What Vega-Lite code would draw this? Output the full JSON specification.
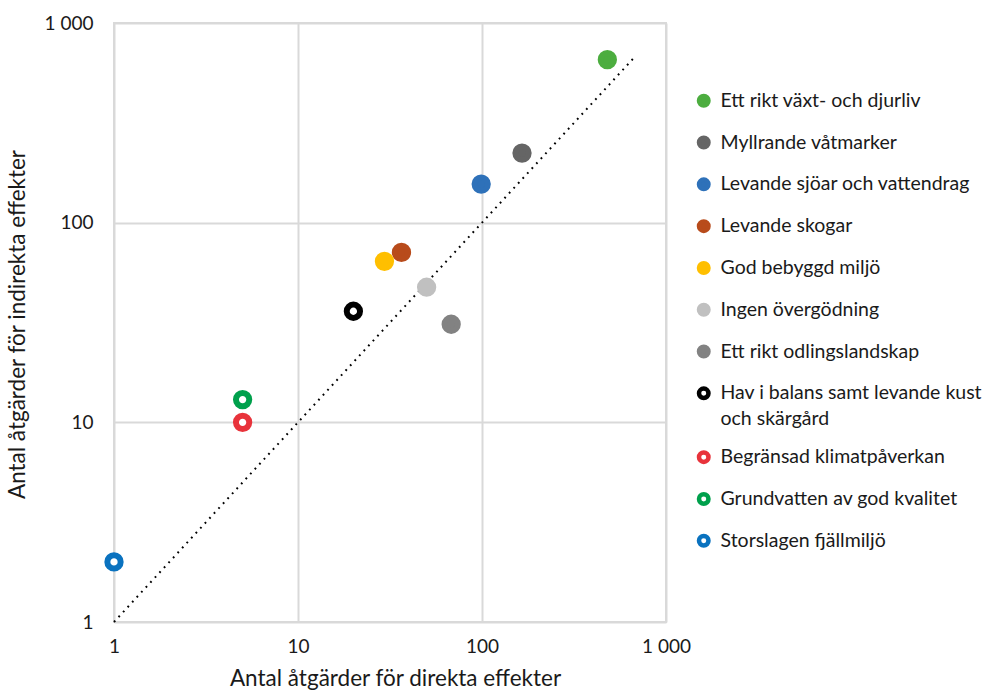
{
  "$schema": "https://vega.github.io/schema/vega-lite/v6.json",
  "width": 552,
  "height": 599,
  "autosize": {"type": "none"},
  "padding": {"left": 114, "top": 23, "right": 321, "bottom": 71},
  "background": "white",
  "config": {
    "font": "Lato",
    "view": {"stroke": "#d9d9d9", "strokeWidth": 2},
    "style": {"guide-label": {"lineHeight": 26}},
    "axis": {
      "labelFont": "Lato", "labelFontSize": 19, "labelColor": "#1a1a1a",
      "titleFont": "Lato", "titleFontSize": 22.5, "titleFontWeight": "normal", "titleColor": "#1a1a1a",
      "gridColor": "#d9d9d9", "gridWidth": 2, "domain": false, "ticks": false, "labelFlush": false
    }
  },
  "datasets": {
    "points": [
      {"mal": "Ett rikt växt- och djurliv", "direkt": 480, "indirekt": 655},
      {"mal": "Myllrande våtmarker", "direkt": 165, "indirekt": 223},
      {"mal": "Levande sjöar och vattendrag", "direkt": 99, "indirekt": 156},
      {"mal": "Levande skogar", "direkt": 36.5, "indirekt": 71},
      {"mal": "God bebyggd miljö", "direkt": 29.5, "indirekt": 64},
      {"mal": "Ingen övergödning", "direkt": 50, "indirekt": 47.5},
      {"mal": "Ett rikt odlingslandskap", "direkt": 68, "indirekt": 31},
      {"mal": "Hav i balans samt levande kust och skärgård", "direkt": 20, "indirekt": 36},
      {"mal": "Begränsad klimatpåverkan", "direkt": 5, "indirekt": 10},
      {"mal": "Grundvatten av god kvalitet", "direkt": 5, "indirekt": 13},
      {"mal": "Storslagen fjällmiljö", "direkt": 1, "indirekt": 2}
    ],
    "diag": [
      {"direkt": 1, "indirekt": 1},
      {"direkt": 680, "indirekt": 680}
    ]
  },
  "layer": [
    {
      "data": {"name": "diag"},
      "mark": {"type": "line", "color": "#000000", "strokeWidth": 2, "strokeDash": [1.8, 4.9], "clip": false},
      "encoding": {
        "x": {"field": "direkt", "type": "quantitative", "scale": {"type": "log", "domain": [1, 1000], "nice": false},
          "axis": {"values": [1, 10, 100, 1000], "labelPadding": 15, "labelExpr": "datum.value == 1000 ? '1 000' : datum.label", "title": "Antal åtgärder för direkta effekter", "titlePadding": 11, "titleX": 281}},
        "y": {"field": "indirekt", "type": "quantitative", "scale": {"type": "log", "domain": [1, 1000], "nice": false},
          "axis": {"values": [1, 10, 100, 1000], "labelPadding": 21, "labelExpr": "datum.value == 1000 ? '1 000' : datum.label", "title": "Antal åtgärder för indirekta effekter", "titlePadding": 15, "titleY": 301}}
      }
    },
    {
      "data": {"name": "points"},
      "mark": {"type": "point", "shape": "circle", "filled": true, "opacity": 1, "strokeWidth": 6, "size": 177, "clip": false},
      "encoding": {
        "x": {"field": "direkt", "type": "quantitative"},
        "y": {"field": "indirekt", "type": "quantitative"},
        "fill": {
          "field": "mal", "type": "nominal",
          "scale": {
            "domain": ["Ett rikt växt- och djurliv", "Myllrande våtmarker", "Levande sjöar och vattendrag", "Levande skogar", "God bebyggd miljö", "Ingen övergödning", "Ett rikt odlingslandskap", "Hav i balans samt levande kust och skärgård", "Begränsad klimatpåverkan", "Grundvatten av god kvalitet", "Storslagen fjällmiljö"],
            "range": ["#4cad3f", "#656565", "#2e71b9", "#b84b1b", "#ffbf00", "#c0c0c0", "#828282", "#ffffff", "#ffffff", "#ffffff", "#ffffff"]
          },
          "legend": {
            "title": null, "orient": "none", "legendX": 580, "legendY": 68, "padding": 0,
            "labelFont": "Lato", "labelFontSize": 19.5, "labelColor": "#1a1a1a", "labelLimit": 300,
            "symbolSize": 90, "symbolStrokeWidth": 4.5, "symbolType": "circle", "labelOffset": 7, "rowPadding": 13.8,
            "labelExpr": "datum.label == 'Hav i balans samt levande kust och skärgård' ? ['Hav i balans samt levande kust', 'och skärgård'] : datum.label"
          }
        },
        "stroke": {
          "field": "mal", "type": "nominal",
          "scale": {
            "domain": ["Ett rikt växt- och djurliv", "Myllrande våtmarker", "Levande sjöar och vattendrag", "Levande skogar", "God bebyggd miljö", "Ingen övergödning", "Ett rikt odlingslandskap", "Hav i balans samt levande kust och skärgård", "Begränsad klimatpåverkan", "Grundvatten av god kvalitet", "Storslagen fjällmiljö"],
            "range": ["#4cad3f", "#656565", "#2e71b9", "#b84b1b", "#ffbf00", "#c0c0c0", "#828282", "#000000", "#e8333b", "#00a04c", "#0a72bf"]
          },
          "legend": {
            "title": null, "orient": "none", "legendX": 580, "legendY": 68, "padding": 0,
            "labelFont": "Lato", "labelFontSize": 19.5, "labelColor": "#1a1a1a", "labelLimit": 300,
            "symbolSize": 90, "symbolStrokeWidth": 4.5, "symbolType": "circle", "labelOffset": 7, "rowPadding": 13.8,
            "labelExpr": "datum.label == 'Hav i balans samt levande kust och skärgård' ? ['Hav i balans samt levande kust', 'och skärgård'] : datum.label"
          }
        }
      }
    }
  ]
}
